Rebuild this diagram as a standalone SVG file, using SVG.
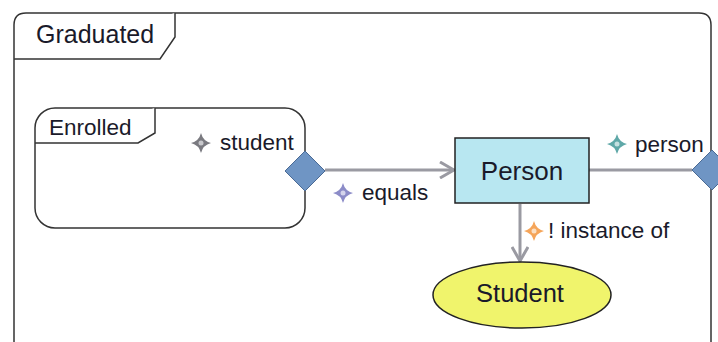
<svg xmlns="http://www.w3.org/2000/svg" width="718" height="342" viewBox="0 0 718 342">
  <style>
    .frame { fill: #ffffff; stroke: #333333; stroke-width: 1.5; }
    .tab { fill: #ffffff; stroke: #333333; stroke-width: 1.5; }
    .lbl { font-family: "Liberation Sans", Arial, sans-serif; fill: #1a1a2a; }
    .small { font-size: 22.5px; }
    .edge { fill: none; stroke: #9a9aa2; stroke-width: 3; }
    .port { fill: #6f95c4; stroke: #4a6a94; stroke-width: 1; }
  </style>
  <defs>
    <marker id="open" viewBox="0 0 18 18" refX="16" refY="9" markerWidth="18" markerHeight="18" markerUnits="userSpaceOnUse" orient="auto">
      <path d="M2,1 L16,9 L2,17" fill="none" stroke="#9a9aa2" stroke-width="3"/>
    </marker>
    <path id="star" d="M0,-10 Q2,-2 10,0 Q2,2 0,10 Q-2,2 -10,0 Q-2,-2 0,-10 Z"/>
  </defs>

  <!-- outer state -->
  <g id="graduated">
    <path class="frame" d="M14,342 L14,25 Q14,13 26,13 L699,13 Q711,13 711,25 L711,342"/>
    <path class="tab" d="M14,59 L160,59 L175,37 L175,13"/>
    <text class="lbl" x="36" y="43" font-size="25">Graduated</text>
  </g>

  <!-- inner state -->
  <g id="enrolled">
    <rect class="frame" x="35" y="108" width="270" height="120" rx="20" ry="20"/>
    <path class="tab" d="M35,143 L138,143 L155,133 L155,108"/>
    <text class="lbl small" x="49" y="135">Enrolled</text>
  </g>

  <!-- connectors -->
  <g id="connectors">
    <line class="edge" x1="325" y1="170" x2="454" y2="170" marker-end="url(#open)"/>
    <line class="edge" x1="589" y1="170" x2="692" y2="170"/>
    <line class="edge" x1="520" y1="204" x2="520" y2="261" marker-end="url(#open)"/>
  </g>

  <g id="person">
    <rect x="455" y="138" width="134" height="65" fill="#b8e7f1" stroke="#222222" stroke-width="1.5"/>
    <text class="lbl" x="522" y="180" font-size="26" text-anchor="middle" font-family="DejaVu Sans, sans-serif">Person</text>
  </g>

  <g id="student">
    <ellipse cx="522" cy="295" rx="89" ry="33" fill="#f0f46c" stroke="#222222" stroke-width="1.5"/>
    <text class="lbl" x="520" y="302" font-size="25.5" text-anchor="middle">Student</text>
  </g>

  <!-- ports -->
  <g id="port-student">
    <polygon class="port" points="305,151 325,171 305,191 285,171"/>
    <use href="#star" x="201" y="143" fill="#7a7a80"/>
    <circle cx="201" cy="143" r="2.5" fill="#c8c8cc"/>
    <text class="lbl small" x="220" y="150">student</text>
  </g>

  <g id="port-person">
    <polygon class="port" points="712,150 732,170 712,190 692,170"/>
    <use href="#star" x="617" y="144" fill="#5fa8a8"/>
    <circle cx="617" cy="144" r="2.5" fill="#c4e0e0"/>
    <text class="lbl small" x="635" y="152">person</text>
  </g>

  <!-- edge labels -->
  <g id="label-equals">
    <use href="#star" x="343" y="193" fill="#8c8cc8"/>
    <circle cx="343" cy="193" r="2.5" fill="#d4d4ec"/>
    <text class="lbl small" x="362" y="200">equals</text>
  </g>

  <g id="label-instance">
    <use href="#star" x="534" y="231" fill="#f5a55a"/>
    <circle cx="534" cy="231" r="2.5" fill="#fbe0c4"/>
    <text class="lbl small" x="548" y="238">! instance of</text>
  </g>
</svg>
